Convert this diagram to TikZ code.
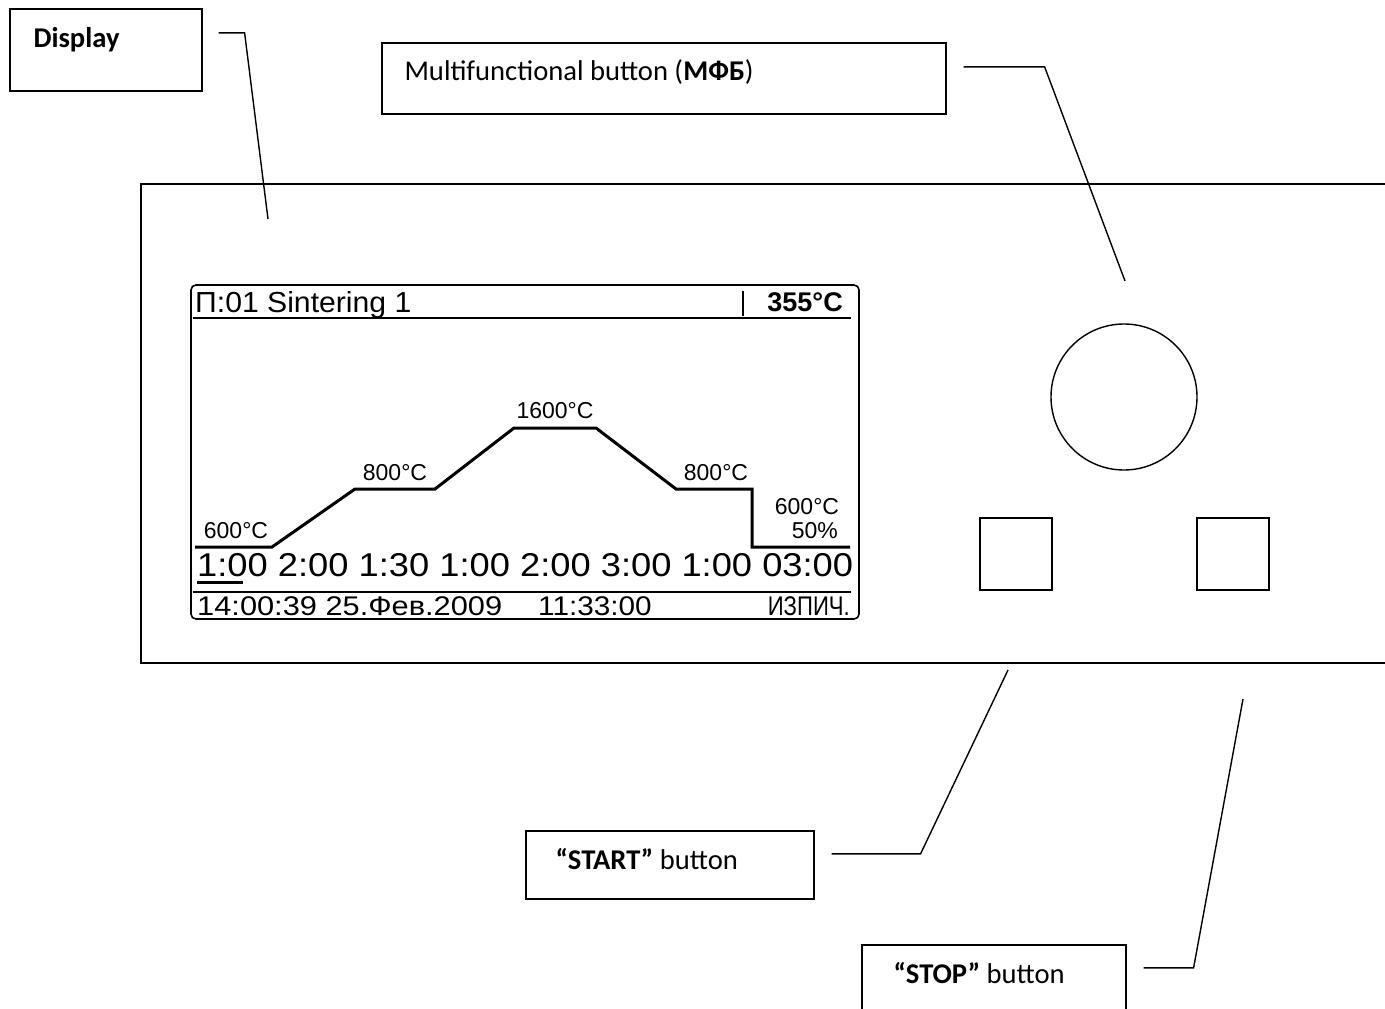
\documentclass[tikz,border=0pt]{standalone}
\usepackage{fontspec}
\setmainfont{Carlito}
\newfontfamily\lcdfont{Liberation Sans}

\begin{document}
\begin{tikzpicture}[x=1pt,y=-1pt,
    tag/.style={draw, line width=1.6pt, anchor=north west, inner sep=0pt},
    tagtext/.style={anchor=base west, font=\fontsize{28.6}{33}\selectfont},
    lead/.style={line width=1.4pt},
    lcd/.style={font=\lcdfont\fontsize{#1}{#1}\selectfont, inner sep=0pt}]
                    \useasboundingbox (0,0) rectangle (1385,1009);
                    \clip (0,0) rectangle (1385,1009);
                    \draw[line width=1.4pt] (141,184) rectangle (1420,663);
                    \node[tag, minimum width=192, minimum height=82] (display) at (9,8) {};
                    \node[tagtext] at (30,47) {\textbf{Display}};
                    \node[tag, minimum width=564, minimum height=71] (mfb) at (381,42) {};
                    \node[tagtext] at (401,80) {Multifunctional button (\textbf{МФБ})};
                    \node[tag, minimum width=288, minimum height=68] (startlbl) at (525,830) {};
                    \node[tagtext] at (552,869) {\textbf{“START”} button};
                    \node[tag, minimum width=264, minimum height=80] (stoplbl) at (861,944) {};
                    \node[tagtext] at (890,983) {\textbf{“STOP”} button};
                    \node[draw, circle, line width=1.4pt, minimum size=146] (knob) at (1124,397) {};
                    \node[draw, line width=1.4pt, minimum size=72] (start) at (1016,554) {};
                    \node[draw, line width=1.4pt, minimum size=72] (stop) at (1233,554) {};
                    \coordinate (dispend) at (268,219);
                    \coordinate (knobend) at (1125,281);
                    \coordinate (startend) at (1008,670);
                    \coordinate (stopend) at (1243,699);
                    \draw[lead] ([xshift=16pt,yshift=17pt]display.east) -- ++(26,0) -- (dispend);
                    \draw[lead] ([xshift=17pt,yshift=11.5pt]mfb.east) -- ++(81,0) -- (knobend);
                    \draw[lead] ([xshift=17pt,yshift=11pt]startlbl.east) -- ++(89,0) -- (startend);
                    \draw[lead] ([xshift=17pt,yshift=17pt]stoplbl.east) -- ++(50,0) -- (stopend);
                    \draw[line width=1.6pt, rounded corners=5pt] (191,285) rectangle (859,619);
                    \draw[line width=1.5pt] (193,318) -- (851,318);
                    \draw[line width=1.2pt] (743,291) -- (743,316);
                    \draw[line width=1.5pt] (193,592) -- (851,592);
                    \draw[line width=3pt] (197,582) -- (243,582);
                    \draw[line width=3pt] (195,547) -- (272,547) -- (355,489) -- (435,489) -- (514,428)
                        -- (596,428) -- (676,489) -- (752,489) -- (752,547) -- (850,547);
                    \node[lcd=29, xscale=1.04, anchor=base west] (title) at (195,312) {П:01 Sintering 1};
                    \node[lcd=27, anchor=base east] (temp) at (843,311) {\textbf{355°C}};
                    \node[lcd=23, anchor=base] (t1) at (236,538) {600°C};
                    \node[lcd=23, anchor=base] (t2) at (395,480) {800°C};
                    \node[lcd=23, anchor=base] (t3) at (555,418) {1600°C};
                    \node[lcd=23, anchor=base] (t4) at (716,480) {800°C};
                    \node[lcd=23, anchor=base] (t5) at (807,514) {600°C};
                    \node[lcd=23, anchor=base east] (pct) at (838,538) {50\%};
                    \node[lcd=33, xscale=1.1, anchor=base west] (times) at (197,576) {1:00 2:00 1:30 1:00 2:00 3:00 1:00 03:00};
                    \node[lcd=27, xscale=1.14, anchor=base west] (clock) at (197,615) {14:00:39 25.Фев.2009};
                    \node[lcd=27, xscale=1.1, anchor=base west] (left) at (538,615) {11:33:00};
                    \node[lcd=27, xscale=0.82, anchor=base east] (mode) at (850,615) {ИЗПИЧ.};
                \end{tikzpicture}
\end{document}
